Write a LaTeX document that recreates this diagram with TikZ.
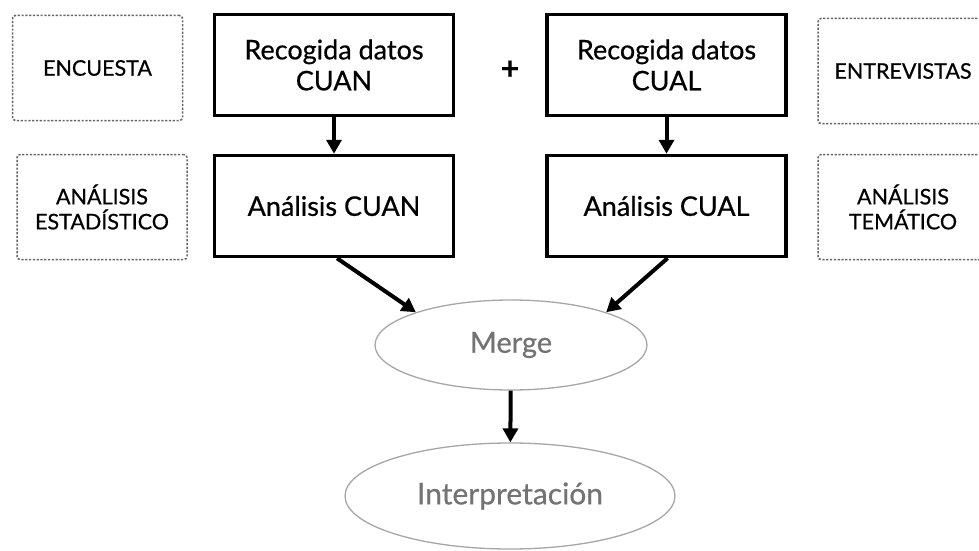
\documentclass[tikz,border=0pt]{standalone}
\usepackage{fontspec}
\setmainfont{Lato}[FakeBold=0.6]
\usetikzlibrary{shapes.geometric,arrows.meta}
\begin{document}
\begin{tikzpicture}[x=1pt,y=-1pt,
  stagebox/.style={draw=black, line width=3.5pt, minimum width=239pt, minimum height=101pt,
    align=center, font=\fontsize{27}{31}\selectfont, inner sep=0pt},
  notebox/.style={draw=black!60, line width=1.5pt, dash pattern=on 2.2pt off 1.6pt,
    rounded corners=3pt, minimum width=170pt, minimum height=105pt,
    align=center, font=\fontsize{21.5}{25}\selectfont, inner sep=0pt},
  stepoval/.style={ellipse, draw=black!35, line width=1.3pt, inner sep=0pt,
    text=black!55},
  flow/.style={line width=4pt, -{Triangle[length=14pt,width=15pt]}}
]
\useasboundingbox (0,0) rectangle (979,551);

% note boxes at the sides
\node[notebox] (encuesta) at (97.5,68) {ENCUESTA};
\node[notebox] (estad) at (102,207) {ANÁLISIS\\ESTADÍSTICO};
\node[notebox] (entrev) at (903,71) {ENTREVISTAS};
\node[notebox] (tematico) at (903,207) {ANÁLISIS\\TEMÁTICO};

% main stages
\node[stagebox] (rcuan) at (334,65) {Recogida datos\\CUAN};
\node[stagebox] (acuan) at (334,206) {Análisis CUAN};
\node[stagebox] (rcual) at (666.5,65) {Recogida datos\\CUAL};
\node[stagebox] (acual) at (666.5,206) {Análisis CUAL};
\node[font=\fontsize{32}{32}\selectfont\bfseries] (plus) at (510,70) {+};

% merge and interpretation
\node[stepoval, minimum width=272pt, minimum height=90pt,
  font=\fontsize{29}{32}\selectfont] (merge) at (511,345) {Merge};
\node[stepoval, minimum width=330pt, minimum height=106pt,
  font=\fontsize{30}{33}\selectfont] (interp) at (510,496) {Interpretación};

% connectors
\draw[flow] (rcuan) -- (acuan);
\draw[flow] (rcual) -- (acual);
\draw[flow] ([xshift=3pt]acuan.south) -- (merge.161);
\draw[flow] ([xshift=1pt]acual.south) -- (merge.19);
\draw[flow] (merge) -- (interp);
\end{tikzpicture}
\end{document}
